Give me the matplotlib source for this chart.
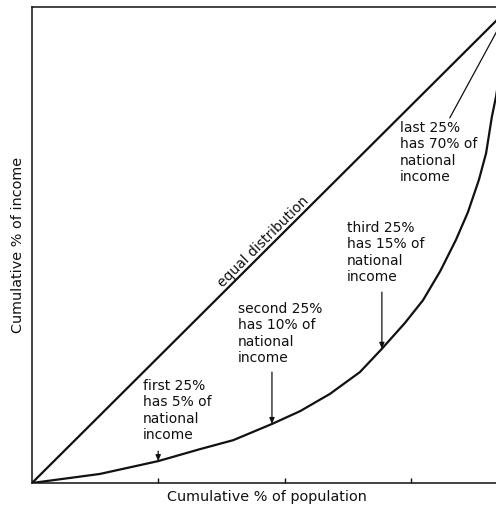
import matplotlib
matplotlib.use('Agg')
import matplotlib.pyplot as plt

# Lorenz curve (cumulative % population vs % income)
pop = [0, 14.2, 26.4, 35.1, 42.1, 50.2, 56.1, 62.3, 68.6, 73.2, 78.0, 81.8,
       85.4, 88.7, 91.2, 93.5, 95.0, 96.2, 97.1, 100]
income = [0, 1.9, 4.6, 7.1, 9.0, 12.4, 15.1, 18.7, 23.3, 28.2, 33.6, 38.4,
          44.5, 51.1, 56.9, 63.7, 69.3, 76.9, 81.3, 100]

equal_x = [0, 100]
equal_y = [0, 100]

tick_pos = [26.4, 52.9, 79.3]

labels = ['first 25%\nhas 5% of\nnational\nincome',
          'second 25%\nhas 10% of\nnational\nincome',
          'third 25%\nhas 15% of\nnational\nincome',
          'last 25%\nhas 70% of\nnational\nincome']
label_xy = [(23.2, 21.8), (43.1, 38.0), (65.9, 55.0), (77.0, 76.0)]
arrow_idx = [2, 5, 9]              # curve points the arrows land on
arrow_start = [6.7, 23.3, 40.1]    # y where each arrow starts
pointer_start = (87.4, 76.7)       # line from "last 25%" to the top corner

ink = '#111111'
fs = 10
fs_axis = 10.4

fig = plt.figure(figsize=(4.96, 5.08), dpi=100)
ax = fig.add_axes([32 / 496, 25 / 508, 478 / 496, 476 / 508])
ax.set_xlim(0, 100)
ax.set_ylim(0, 100)

for s in ['left', 'bottom', 'top']:
    ax.spines[s].set_linewidth(1.1)
    ax.spines[s].set_color(ink)
ax.spines['right'].set_visible(False)

ax.set_xticks(tick_pos)
ax.set_xticklabels([])
ax.set_yticks([])
ax.tick_params(axis='x', direction='in', length=3.5, width=1.0, color=ink)

ax.plot(equal_x, equal_y, color=ink, lw=1.6, solid_capstyle='round')
ax.plot(pop, income, color=ink, lw=1.6, solid_joinstyle='round')

ax.text(48.3, 50.6, 'equal distribution', rotation=44.9, ha='center', va='center',
        fontsize=fs, color=ink, rotation_mode='anchor')

for (tx, ty), lbl in zip(label_xy, labels):
    ax.text(tx, ty, lbl, ha='left', va='top', fontsize=fs, color=ink, linespacing=1.2)

for i, ys in zip(arrow_idx, arrow_start):
    ax.annotate('', xy=(pop[i], income[i]), xytext=(pop[i], ys),
                arrowprops=dict(arrowstyle='-|>,head_length=0.35,head_width=0.15',
                                color=ink, lw=0.9, shrinkA=0, shrinkB=0))

ax.annotate('', xy=(equal_x[1], equal_y[1]), xytext=pointer_start,
            arrowprops=dict(arrowstyle='-', color=ink, lw=0.9, shrinkA=0, shrinkB=0))

fig.text(267 / 496, 1 - 497 / 508, 'Cumulative % of population', ha='center', va='center',
         fontsize=fs_axis, color=ink)
fig.text(18 / 496, 1 - 245 / 508, 'Cumulative % of income', ha='center', va='center',
         rotation=90, fontsize=fs_axis, color=ink)

fig.savefig('out.png', dpi=100)
